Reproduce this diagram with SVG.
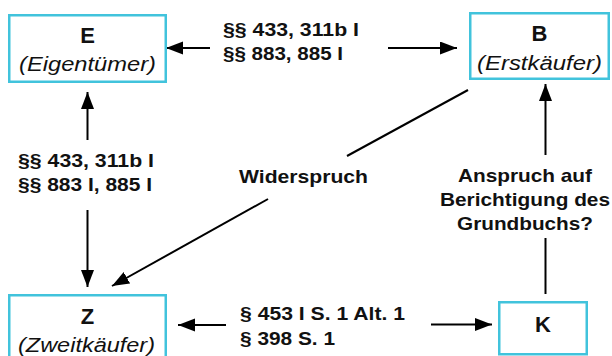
<svg xmlns="http://www.w3.org/2000/svg" width="612" height="356" viewBox="0 0 612 356">
  <style>
    .box { fill: #ffffff; stroke: #41c3dc; stroke-width: 2.5; }
    .title { font-family: "Liberation Sans", Arial, sans-serif; font-weight: bold; font-size: 22px; fill: #111; text-anchor: middle; }
    .sub { font-family: "Liberation Sans", Arial, sans-serif; font-style: italic; font-size: 20.5px; fill: #111; }
    .lbl { font-family: "Liberation Sans", Arial, sans-serif; font-weight: bold; font-size: 19px; fill: #111; }
    .conn { stroke: #000; stroke-width: 2; fill: none; }
    .arr { marker-end: url(#head); }
  </style>
  <defs>
    <marker id="head" markerUnits="userSpaceOnUse" markerWidth="18" markerHeight="14" refX="17" refY="6.5" orient="auto">
      <path d="M0,0 L17,6.5 L0,13 Z" fill="#000"/>
    </marker>
  </defs>
  <rect width="612" height="356" fill="#ffffff"/>

  <!-- connectors -->
  <g id="connectors">
    <line class="conn arr" x1="210" y1="48" x2="166" y2="48"/>
    <line class="conn arr" x1="388" y1="48" x2="457" y2="48"/>
    <line class="conn arr" x1="87.5" y1="140" x2="87.5" y2="92"/>
    <line class="conn arr" x1="87.5" y1="210" x2="87.5" y2="287"/>
    <line class="conn" x1="468" y1="90" x2="347" y2="156"/>
    <line class="conn arr" x1="268" y1="199" x2="112" y2="286"/>
    <line class="conn arr" x1="545.5" y1="155" x2="545.5" y2="84"/>
    <line class="conn" x1="545.5" y1="294" x2="545.5" y2="238"/>
    <line class="conn arr" x1="226" y1="325" x2="178" y2="325"/>
    <line class="conn arr" x1="431" y1="324.5" x2="492" y2="324.5"/>
  </g>

  <!-- edge labels -->
  <g id="labels">
    <text class="lbl" x="223" y="36" textLength="136" lengthAdjust="spacingAndGlyphs">§§ 433, 311b I</text>
    <text class="lbl" x="223" y="59.5" textLength="120" lengthAdjust="spacingAndGlyphs">§§ 883, 885 I</text>
    <text class="lbl" x="18" y="167" textLength="136" lengthAdjust="spacingAndGlyphs">§§ 433, 311b I</text>
    <text class="lbl" x="18" y="191" textLength="134" lengthAdjust="spacingAndGlyphs">§§ 883 I, 885 I</text>
    <text class="lbl" x="239" y="183" textLength="129" lengthAdjust="spacingAndGlyphs">Widerspruch</text>
    <text class="lbl" x="458" y="182" textLength="134" lengthAdjust="spacingAndGlyphs">Anspruch auf</text>
    <text class="lbl" x="440" y="206" textLength="170" lengthAdjust="spacingAndGlyphs">Berichtigung des</text>
    <text class="lbl" x="457" y="230" textLength="136" lengthAdjust="spacingAndGlyphs">Grundbuchs?</text>
    <text class="lbl" x="240" y="319.5" textLength="165" lengthAdjust="spacingAndGlyphs">§ 453 I S. 1 Alt. 1</text>
    <text class="lbl" x="240" y="344.5" textLength="95" lengthAdjust="spacingAndGlyphs">§ 398 S. 1</text>
  </g>

  <!-- nodes -->
  <g id="node-E">
    <rect class="box" x="9.25" y="15.25" width="156.5" height="66.5"/>
    <text class="title" x="87.5" y="43">E</text>
    <text class="sub" x="19" y="71" textLength="137" lengthAdjust="spacingAndGlyphs">(Eigentümer)</text>
  </g>
  <g id="node-B">
    <rect class="box" x="470.25" y="13.25" width="138.5" height="65.5"/>
    <text class="title" x="539.5" y="41">B</text>
    <text class="sub" x="477" y="70" textLength="125" lengthAdjust="spacingAndGlyphs">(Erstkäufer)</text>
  </g>
  <g id="node-Z">
    <rect class="box" x="9.25" y="295.25" width="156.5" height="70"/>
    <text class="title" x="87.5" y="324">Z</text>
    <text class="sub" x="18" y="352" textLength="137" lengthAdjust="spacingAndGlyphs">(Zweitkäufer)</text>
  </g>
  <g id="node-K">
    <rect class="box" x="499.25" y="302.25" width="87.5" height="52"/>
    <text class="title" x="543" y="332">K</text>
  </g>
</svg>
